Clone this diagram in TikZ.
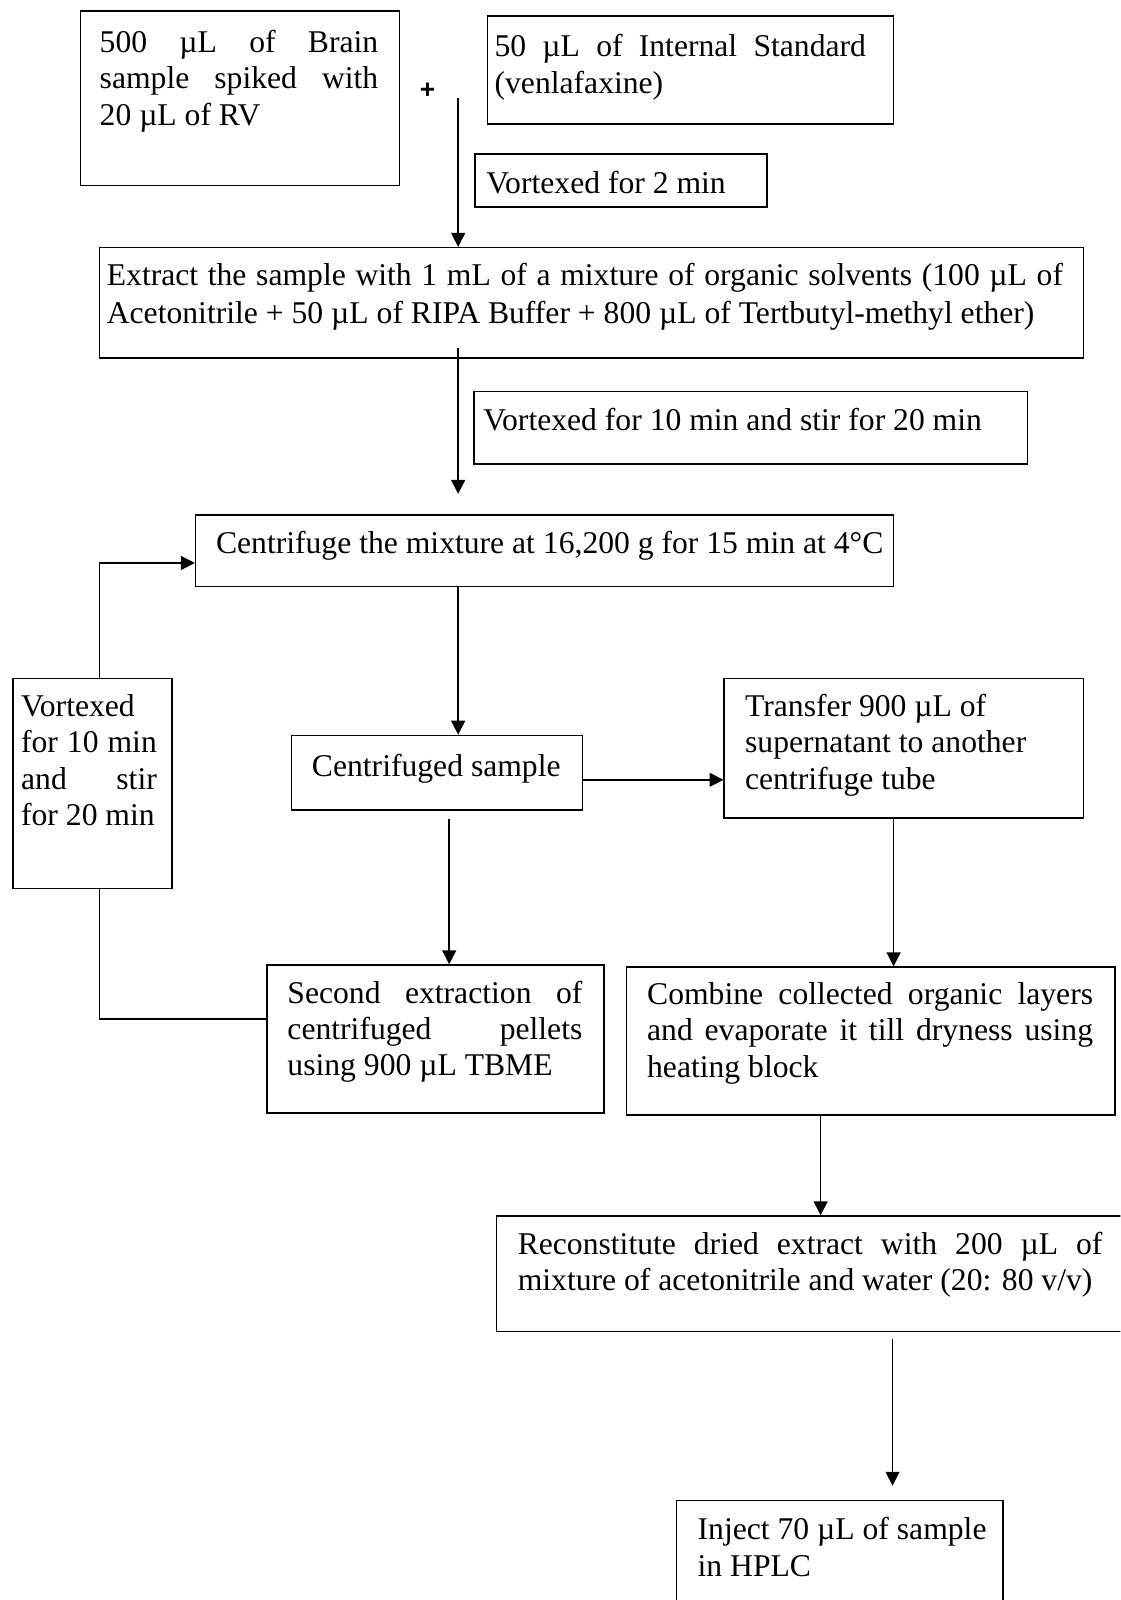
\documentclass[tikz,border=0pt]{standalone}
\usepackage{fontspec}
\setmainfont{Liberation Serif}
\newfontfamily\plusfont{Liberation Sans}
\usetikzlibrary{arrows.meta}

\hyphenpenalty=10000
\exhyphenpenalty=10000
\sloppy

\newlength{\pxu}
\setlength{\pxu}{0.387pt}

\tikzset{
  box/.style = {draw, rectangle, inner sep = 0pt, anchor = north west},
  txt/.style = {inner sep = 0pt, anchor = base west, align = justify,
                font = \fontsize{12}{13.8}\selectfont},
  rag/.style = {txt, execute at begin node = \raggedright},
  arr/.style = {-{Triangle[length = 5.3pt, width = 5.3pt]}}
}

\begin{document}
\begin{tikzpicture} [x = \pxu, y = -\pxu, line width = 0.55pt]

\useasboundingbox (0,0) rectangle (1098,1568);
\clip (0,0) rectangle (1098,1568);

% inputs
\node [box, minimum width = 313\pxu, minimum height = 171\pxu] (brain) at (78,10) {};
\node [txt, text width = 273\pxu] (braint) at (97,51.5) {500 µL of Brain sample spiked with 20 µL of RV};

\node [box, minimum width = 398\pxu, minimum height = 106\pxu] (istd) at (477,15) {};
\node [txt, text width = 364\pxu] (istdt) at (484,55.5) {50 µL of Internal Standard (venlafaxine)};

\node [font = \plusfont\bfseries\fontsize{10}{10}\selectfont, inner sep = 0pt] (plus) at (419,89) {+};
\coordinate (mix) at (449,96);

\node [box, minimum width = 286\pxu, minimum height = 52\pxu] (vtx2) at (465,150) {};
\node [rag, text width = 260\pxu] (vtx2t) at (476,190) {Vortexed for 2 min};

% extraction
\node [box, minimum width = 964\pxu, minimum height = 108\pxu] (extr) at (97,242) {};
\node [txt, text width = 937\pxu, font = \fontsize{12}{14.5}\selectfont] (extrt) at (104,280) {Extract the sample with 1 mL of a mixture of organic solvents (100 µL of Acetonitrile + 50 µL of RIPA Buffer + 800 µL of Tertbutyl-methyl ether)};

\node [box, minimum width = 542\pxu, minimum height = 71\pxu] (vtx10) at (464,383) {};
\node [rag, text width = 520\pxu] (vtx10t) at (473,422) {Vortexed for 10 min and stir for 20 min};

\node [box, minimum width = 684\pxu, minimum height = 70\pxu] (cent) at (191,504) {};
\node [rag, text width = 660\pxu] (centt) at (211,542) {Centrifuge the mixture at 16,200 g for 15 min at 4°C};

% second extraction loop
\node [box, minimum width = 156\pxu, minimum height = 206\pxu] (redo) at (12,664) {};
\node [txt, text width = 133\pxu] (redot) at (20,702) {Vortexed for 10 min and stir for 20 min};

\node [box, minimum width = 285\pxu, minimum height = 73\pxu] (spun) at (285,720) {};
\node [rag, text width = 260\pxu] (spunt) at (305,760.5) {Centrifuged sample};

\node [box, minimum width = 330\pxu, minimum height = 145\pxu] (pell) at (261,945) {};
\node [txt, text width = 289\pxu] (pellt) at (281,983) {Second extraction of centrifuged pellets using 900 µL TBME};

% supernatant
\node [box, minimum width = 352\pxu, minimum height = 137\pxu] (supn) at (709,664) {};
\node [rag, text width = 310\pxu] (supnt) at (729.5,702) {Transfer 900 µL of supernatant to another centrifuge tube};

\node [box, minimum width = 479\pxu, minimum height = 145\pxu] (comb) at (613,947) {};
\node [txt, text width = 437\pxu] (combt) at (633.5,984.5) {Combine collected organic layers and evaporate it till dryness using heating block};

\node [box, minimum width = 615\pxu, minimum height = 113\pxu] (reco) at (486,1191) {};
\node [txt, text width = 573\pxu] (recot) at (506.7,1229.5) {Reconstitute dried extract with 200 µL of mixture of acetonitrile and water (20: 80 v/v)};

\node [box, minimum width = 320\pxu, minimum height = 130\pxu] (hplc) at (662,1470) {};
\node [rag, text width = 290\pxu] (hplct) at (683,1509) {Inject 70 µL of sample in HPLC};

% connectors
\draw [arr] (mix) -- (mix |- extr.north);
\draw [arr] ([yshift = 10\pxu] mix |- extr.south) -- ([yshift = 20\pxu] mix |- cent.north);
\draw [arr] (mix |- cent.south) -- (mix |- spun.north);
\draw [arr] ([yshift = -7\pxu] spun.east) -- ([yshift = -7\pxu] spun.east -| supn.west);
\draw [arr] ([xshift = 12\pxu, yshift = -8\pxu] spun.south) -- ([xshift = 12\pxu] spun.south |- pell.north);
\draw [arr] ([xshift = -10\pxu] supn.south) -- ([xshift = -10\pxu] supn.south |- comb.north);
\draw [arr] ([xshift = -49\pxu] comb.south) -- ([xshift = -49\pxu] comb.south |- reco.north);
\draw [arr] ([xshift = 52\pxu, yshift = -7\pxu] hplc.north |- reco.south) -- ([xshift = 52\pxu, yshift = 14\pxu] hplc.north);

\draw ([yshift = 19.5\pxu] pell.west) -| ([xshift = 7\pxu] redo.south);
\draw [arr] ([xshift = 7\pxu] redo.north) |- ([yshift = -12\pxu] cent.west);

\end{tikzpicture}
\end{document}
